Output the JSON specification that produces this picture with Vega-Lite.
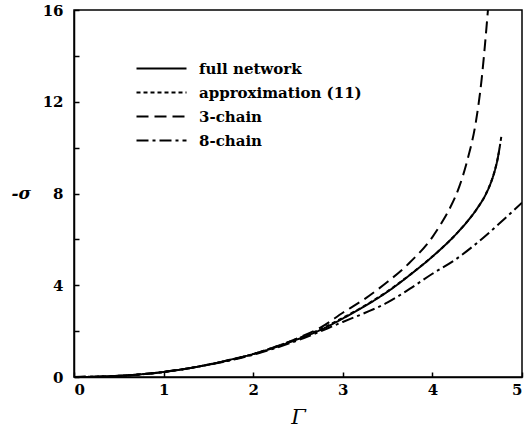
{
  "$schema": "https://vega.github.io/schema/vega-lite/v6.json",
  "autosize": "none",
  "width": 448,
  "height": 367,
  "padding": {"left": 74, "top": 10, "right": 10, "bottom": 52},
  "background": "white",
  "config": {
    "view": {"stroke": "black", "strokeWidth": 1.5},
    "font": "DejaVu Serif"
  },
  "data": {
    "values": [
      {"s": "full network", "g": 0, "v": 0},
      {"s": "full network", "g": 0.25, "v": 0.01},
      {"s": "full network", "g": 0.5, "v": 0.05},
      {"s": "full network", "g": 0.75, "v": 0.12},
      {"s": "full network", "g": 1, "v": 0.22},
      {"s": "full network", "g": 1.25, "v": 0.36},
      {"s": "full network", "g": 1.5, "v": 0.54},
      {"s": "full network", "g": 1.75, "v": 0.76},
      {"s": "full network", "g": 2, "v": 1.0},
      {"s": "full network", "g": 2.25, "v": 1.3},
      {"s": "full network", "g": 2.5, "v": 1.65},
      {"s": "full network", "g": 2.75, "v": 2.05},
      {"s": "full network", "g": 3, "v": 2.55},
      {"s": "full network", "g": 3.25, "v": 3.1},
      {"s": "full network", "g": 3.5, "v": 3.72},
      {"s": "full network", "g": 3.75, "v": 4.45},
      {"s": "full network", "g": 4, "v": 5.25},
      {"s": "full network", "g": 4.1, "v": 5.6},
      {"s": "full network", "g": 4.2, "v": 5.97},
      {"s": "full network", "g": 4.3, "v": 6.38},
      {"s": "full network", "g": 4.4, "v": 6.83},
      {"s": "full network", "g": 4.5, "v": 7.35},
      {"s": "full network", "g": 4.6, "v": 8.0},
      {"s": "full network", "g": 4.66, "v": 8.55},
      {"s": "full network", "g": 4.7, "v": 9.05},
      {"s": "full network", "g": 4.73, "v": 9.55},
      {"s": "full network", "g": 4.75, "v": 10.0},
      {"s": "approximation (11)", "g": 0, "v": 0},
      {"s": "approximation (11)", "g": 0.5, "v": 0.05},
      {"s": "approximation (11)", "g": 1, "v": 0.22},
      {"s": "approximation (11)", "g": 1.5, "v": 0.54},
      {"s": "approximation (11)", "g": 2, "v": 1.0},
      {"s": "approximation (11)", "g": 2.25, "v": 1.32},
      {"s": "approximation (11)", "g": 2.5, "v": 1.68},
      {"s": "approximation (11)", "g": 2.75, "v": 2.08},
      {"s": "approximation (11)", "g": 3, "v": 2.58},
      {"s": "approximation (11)", "g": 3.25, "v": 3.12},
      {"s": "approximation (11)", "g": 3.5, "v": 3.74},
      {"s": "approximation (11)", "g": 3.75, "v": 4.46},
      {"s": "approximation (11)", "g": 4, "v": 5.25},
      {"s": "approximation (11)", "g": 4.1, "v": 5.6},
      {"s": "approximation (11)", "g": 4.2, "v": 5.97},
      {"s": "approximation (11)", "g": 4.3, "v": 6.38},
      {"s": "approximation (11)", "g": 4.4, "v": 6.83},
      {"s": "approximation (11)", "g": 4.5, "v": 7.35},
      {"s": "approximation (11)", "g": 4.6, "v": 8.0},
      {"s": "approximation (11)", "g": 4.66, "v": 8.55},
      {"s": "approximation (11)", "g": 4.7, "v": 9.05},
      {"s": "approximation (11)", "g": 4.73, "v": 9.55},
      {"s": "approximation (11)", "g": 4.77, "v": 10.5},
      {"s": "3-chain", "g": 0, "v": 0},
      {"s": "3-chain", "g": 0.5, "v": 0.05},
      {"s": "3-chain", "g": 1, "v": 0.22},
      {"s": "3-chain", "g": 1.5, "v": 0.54},
      {"s": "3-chain", "g": 2, "v": 1.0},
      {"s": "3-chain", "g": 2.5, "v": 1.7},
      {"s": "3-chain", "g": 2.75, "v": 2.15},
      {"s": "3-chain", "g": 3, "v": 2.8},
      {"s": "3-chain", "g": 3.25, "v": 3.42},
      {"s": "3-chain", "g": 3.5, "v": 4.15},
      {"s": "3-chain", "g": 3.75, "v": 5.0},
      {"s": "3-chain", "g": 4, "v": 6.1},
      {"s": "3-chain", "g": 4.1, "v": 6.7},
      {"s": "3-chain", "g": 4.2, "v": 7.4},
      {"s": "3-chain", "g": 4.3, "v": 8.3},
      {"s": "3-chain", "g": 4.4, "v": 9.6},
      {"s": "3-chain", "g": 4.48, "v": 11.0},
      {"s": "3-chain", "g": 4.55, "v": 13.0},
      {"s": "3-chain", "g": 4.62, "v": 16},
      {"s": "8-chain", "g": 0, "v": 0},
      {"s": "8-chain", "g": 0.5, "v": 0.05},
      {"s": "8-chain", "g": 1, "v": 0.22},
      {"s": "8-chain", "g": 1.5, "v": 0.53},
      {"s": "8-chain", "g": 2, "v": 0.97},
      {"s": "8-chain", "g": 2.5, "v": 1.6},
      {"s": "8-chain", "g": 3, "v": 2.4},
      {"s": "8-chain", "g": 3.25, "v": 2.8},
      {"s": "8-chain", "g": 3.5, "v": 3.25},
      {"s": "8-chain", "g": 3.75, "v": 3.85},
      {"s": "8-chain", "g": 4, "v": 4.5},
      {"s": "8-chain", "g": 4.25, "v": 5.1},
      {"s": "8-chain", "g": 4.5, "v": 5.85},
      {"s": "8-chain", "g": 4.75, "v": 6.7},
      {"s": "8-chain", "g": 5, "v": 7.6}
    ]
  },
  "mark": {"type": "line", "color": "black", "strokeWidth": 2, "clip": true, "interpolate": "monotone"},
  "encoding": {
    "x": {
      "field": "g", "type": "quantitative",
      "scale": {"domain": [0, 5], "nice": false},
      "axis": {
        "values": [0, 1, 2, 3, 4, 5],
        "title": "Γ",
        "titleFont": "DejaVu Serif", "titleFontStyle": "italic", "titleFontWeight": "normal",
        "titleFontSize": 21, "titleY": 46, "titleBaseline": "alphabetic",
        "labelFont": "DejaVu Serif", "labelFontWeight": "bold", "labelFontSize": 15,
        "labelColor": "black", "labelPadding": 10,
        "tickSize": -5, "tickColor": "black", "tickWidth": 1.5,
        "domainColor": "black", "domainWidth": 1.5, "grid": false
      }
    },
    "y": {
      "field": "v", "type": "quantitative",
      "scale": {"domain": [0, 16], "nice": false},
      "axis": {
        "values": [0, 2, 4, 6, 8, 10, 12, 14, 16],
        "labelExpr": "datum.value % 4 == 0 ? datum.label : ''",
        "title": "-σ",
        "titleAngle": 0, "titleAlign": "left", "titleBaseline": "middle",
        "titleX": -63, "titleY": 183,
        "titleFont": "DejaVu Serif", "titleFontStyle": "italic", "titleFontWeight": "bold",
        "titleFontSize": 17,
        "labelFont": "DejaVu Serif", "labelFontWeight": "bold", "labelFontSize": 15,
        "labelColor": "black", "labelPadding": 16,
        "tickSize": -5, "tickColor": "black", "tickWidth": 1.5,
        "domainColor": "black", "domainWidth": 1.5, "grid": false
      }
    },
    "detail": {"field": "s"},
    "strokeDash": {
      "field": "s", "type": "nominal",
      "scale": {
        "domain": ["full network", "approximation (11)", "3-chain", "8-chain"],
        "range": [[1, 0], [4, 3], [12, 6], [12, 4, 3, 4]]
      },
      "legend": {
        "title": null,
        "orient": "none",
        "legendX": 80,
        "legendY": 51,
        "symbolType": "M-5,0H5",
        "symbolSize": 100,
        "symbolStrokeColor": "black",
        "symbolStrokeWidth": 2,
        "labelFont": "DejaVu Serif",
        "labelFontWeight": "bold",
        "labelFontSize": 15,
        "labelColor": "black",
        "labelOffset": 30,
        "labelLimit": 400,
        "rowPadding": 8
      }
    }
  }
}
